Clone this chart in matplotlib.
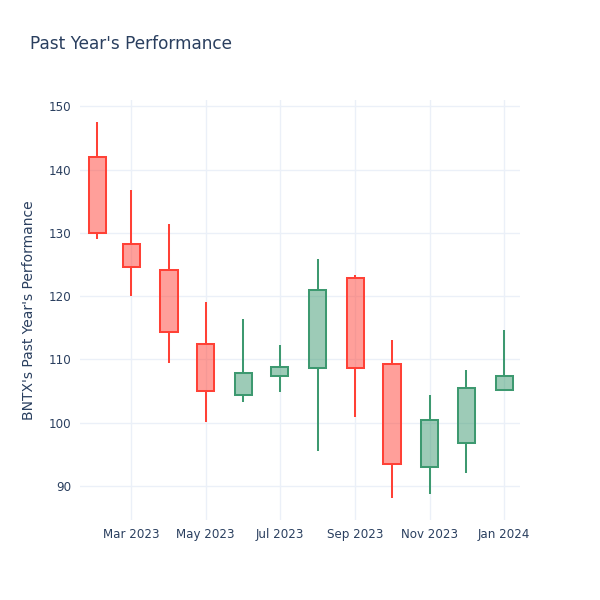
import matplotlib
matplotlib.use("Agg")
import matplotlib.pyplot as plt
import matplotlib.dates as mdates
import numpy as np
from datetime import datetime

# monthly candles for BNTX
months = ["2023-02-01", "2023-03-01", "2023-04-01", "2023-05-01", "2023-06-01", "2023-07-01",
          "2023-08-01", "2023-09-01", "2023-10-01", "2023-11-01", "2023-12-01", "2024-01-01"]
opens = [142.0, 128.3, 124.1, 112.5, 104.3, 107.4, 108.6, 122.8, 109.3, 93.0, 96.8, 105.2]
highs = [147.6, 136.8, 131.4, 119.0, 116.3, 112.3, 125.8, 123.4, 113.0, 104.4, 108.3, 114.6]
lows = [129.1, 120.0, 109.5, 100.1, 103.3, 104.8, 95.5, 100.9, 88.1, 88.7, 92.1, 105.2]
closes = [130.0, 124.6, 114.3, 105.0, 107.8, 108.8, 120.9, 108.7, 93.5, 100.4, 105.5, 107.4]

dates = mdates.date2num([datetime.strptime(m, "%Y-%m-%d") for m in months])
opens, highs, lows, closes = map(np.array, (opens, highs, lows, closes))

UP, DOWN = "#3D9970", "#FF4136"
TXT = "#2a3f5f"
GRID = "#EBF0F8"
lw = 1.45

fig = plt.figure(figsize=(6, 6), dpi=100)
ax = fig.add_axes([80 / 600, 80 / 600, 440 / 600, 420 / 600])

up = closes >= opens
colors = np.where(up, UP, DOWN)
body_lo = np.minimum(opens, closes)
body_hi = np.maximum(opens, closes)

ax.vlines(dates, lows, body_lo, colors=colors, lw=lw, zorder=2)
ax.vlines(dates, body_hi, highs, colors=colors, lw=lw, zorder=2)
for d, lo, hi, c in zip(dates, body_lo, body_hi, colors):
    ax.bar(d, hi - lo, bottom=lo, width=14, facecolor=matplotlib.colors.to_rgba(c, 0.5),
           edgecolor=c, linewidth=lw, zorder=3)

ax.set_xlim(mdates.date2num(datetime(2023, 1, 18)), mdates.date2num(datetime(2024, 1, 14)))
ax.set_ylim(84.6, 151.0)
ax.set_yticks([90, 100, 110, 120, 130, 140, 150])
ax.xaxis.set_major_locator(mdates.MonthLocator(bymonth=[1, 3, 5, 7, 9, 11]))
ax.xaxis.set_major_formatter(mdates.DateFormatter("%b %Y"))

ax.grid(True, color=GRID, lw=1, zorder=0)
ax.set_axisbelow(True)
for s in ax.spines.values():
    s.set_visible(False)
ax.tick_params(length=0, labelsize=8.6, labelcolor=TXT, pad=6)

ax.set_ylabel("BNTX's Past Year's Performance", fontsize=10, color=TXT)
ax.yaxis.set_label_coords(-0.1, 0.5)
fig.text(30 / 600, 1 - 44 / 600, "Past Year's Performance", fontsize=12.2, color=TXT, va="center")

fig.savefig("out.png", dpi=100, facecolor="white")
